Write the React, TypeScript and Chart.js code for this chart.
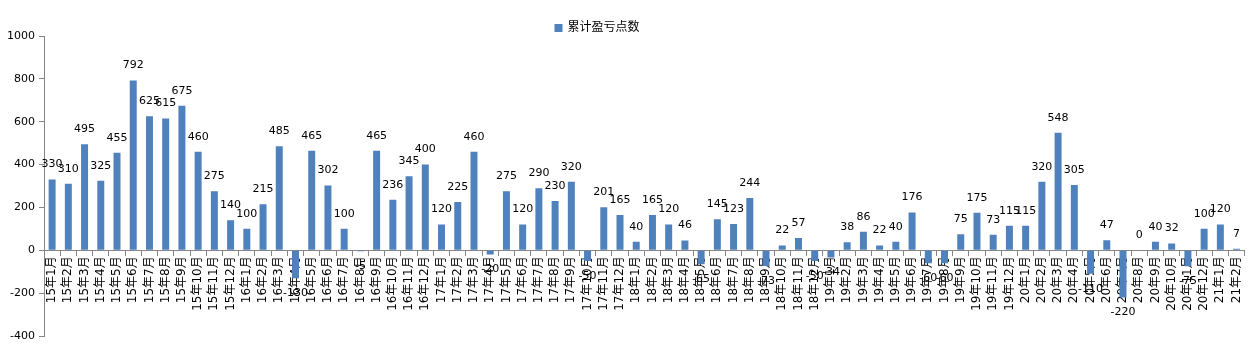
import React, { useEffect, useRef } from "react";
import { Chart, registerables } from "chart.js";

Chart.register(...registerables);

const categories: string[] = [
  "15年1月", "15年2月", "15年3月", "15年4月", "15年5月", "15年6月", "15年7月", "15年8月", "15年9月", "15年10月", "15年11月", "15年12月",
  "16年1月", "16年2月", "16年3月", "16年4月", "16年5月", "16年6月", "16年7月", "16年8月", "16年9月", "16年10月", "16年11月", "16年12月",
  "17年1月", "17年2月", "17年3月", "17年4月", "17年5月", "17年6月", "17年7月", "17年8月", "17年9月", "17年10月", "17年11月", "17年12月",
  "18年1月", "18年2月", "18年3月", "18年4月", "18年5月", "18年6月", "18年7月", "18年8月", "18年9月", "18年10月", "18年11月", "18年12月",
  "19年1月", "19年2月", "19年3月", "19年4月", "19年5月", "19年6月", "19年7月", "19年8月", "19年9月", "19年10月", "19年11月", "19年12月",
  "20年1月", "20年2月", "20年3月", "20年4月", "20年5月", "20年6月", "20年7月", "20年8月", "20年9月", "20年10月", "20年11月", "20年12月",
  "21年1月", "21年2月",
];

const cumulativePoints: number[] = [
  330, 310, 495, 325, 455, 792, 625, 615, 675, 460, 275, 140,
  100, 215, 485, -130, 465, 302, 100, -5, 465, 236, 345, 400,
  120, 225, 460, -20, 275, 120, 290, 230, 320, -50, 201, 165,
  40, 165, 120, 46, -65, 145, 123, 244, -73, 22, 57, -50,
  -34, 38, 86, 22, 40, 176, -60, -60, 75, 175, 73, 115,
  115, 320, 548, 305, -110, 47, -220, 0, 40, 32, -75, 100,
  120, 7,
];

const seriesName = "累计盈亏点数";
const yMin = -400;
const yMax = 1000;
const yStep = 200;

const BAR_COLOR = "#4F81BD";
const AXIS_COLOR = "#868686";
const FONT = '"DejaVu Sans", "Noto Sans CJK SC", sans-serif';

const valueLabelPlugin = {
  id: "valueLabels",
  afterDatasetsDraw(chart: any) {
    const ctx = chart.ctx;
    const meta = chart.getDatasetMeta(0);
    const data = chart.data.datasets[0].data as number[];
    ctx.save();
    ctx.font = `11px ${FONT}`;
    ctx.fillStyle = "#000000";
    ctx.textAlign = "center";
    ctx.textBaseline = "middle";
    meta.data.forEach((bar: any, i: number) => {
      const v = data[i];
      const y = v >= 0 ? bar.y - 15 : bar.y + 15;
      ctx.fillText(String(v), bar.x, y);
    });
    ctx.restore();
  },
};

const legendPlugin = {
  id: "customLegend",
  afterDraw(chart: any) {
    const ctx = chart.ctx;
    ctx.save();
    ctx.font = `12px ${FONT}`;
    const text = seriesName;
    const tw = ctx.measureText(text).width;
    const box = 8;
    const gap = 5;
    const total = box + gap + tw;
    const cx = 597;
    const x0 = cx - total / 2;
    const cy = 28;
    ctx.fillStyle = BAR_COLOR;
    ctx.fillRect(x0, cy - box / 2, box, box);
    ctx.fillStyle = "#000000";
    ctx.textBaseline = "middle";
    ctx.textAlign = "left";
    ctx.fillText(text, x0 + box + gap, cy);
    ctx.restore();
  },
};

export default function App() {
  const canvasRef = useRef<HTMLCanvasElement | null>(null);

  useEffect(() => {
    if (!canvasRef.current) return;
    const chart = new Chart(canvasRef.current, {
      type: "bar",
      data: {
        labels: categories,
        datasets: [
          {
            label: seriesName,
            data: cumulativePoints,
            backgroundColor: BAR_COLOR,
            borderWidth: 0,
            categoryPercentage: 1,
            barPercentage: 0.43,
          },
        ],
      },
      options: {
        responsive: false,
        animation: false,
        layout: { padding: { top: 36, bottom: 16, left: 0, right: 3 } },
        plugins: {
          legend: { display: false },
          tooltip: { enabled: false },
        },
        scales: {
          x: {
            position: { y: 0 } as any,
            grid: {
              offset: true,
              drawOnChartArea: false,
              drawTicks: true,
              tickLength: 5,
              color: AXIS_COLOR,
            },
            border: { color: AXIS_COLOR, width: 1 },
            ticks: {
              autoSkip: false,
              minRotation: 90,
              maxRotation: 90,
              padding: 1,
              color: "#000000",
              font: { size: 12, family: FONT },
            },
          },
          y: {
            min: yMin,
            max: yMax,
            afterFit(scale: any) {
              scale.width = 44;
            },
            grid: {
              drawOnChartArea: false,
              drawTicks: true,
              tickLength: 5,
              color: AXIS_COLOR,
            },
            border: { color: AXIS_COLOR, width: 1 },
            ticks: {
              stepSize: yStep,
              padding: 4,
              color: "#000000",
              font: { size: 11, family: FONT },
              callback: (value: any) => String(value),
            },
          },
        },
      },
      plugins: [valueLabelPlugin, legendPlugin],
    });
    return () => chart.destroy();
  }, []);

  return (
    <div style={{ position: "absolute", left: 0, top: 0, width: 1252, height: 352, background: "#ffffff" }}>
      <canvas ref={canvasRef} width={1252} height={352} />
    </div>
  );
}
